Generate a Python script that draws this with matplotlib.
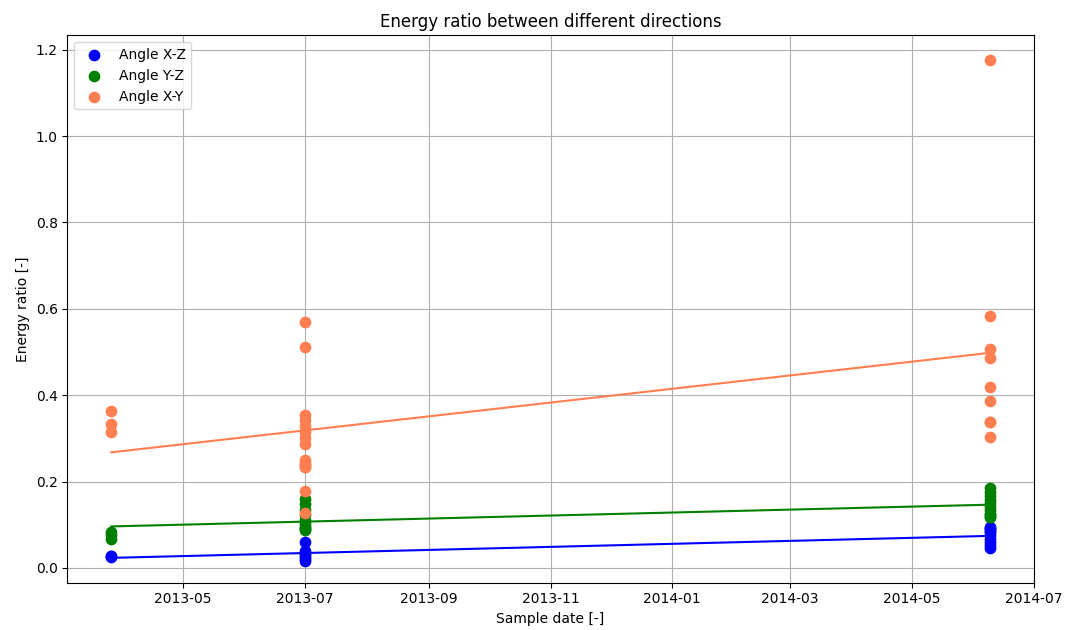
import numpy as np
import matplotlib.pyplot as plt
import matplotlib.dates as mdates

# sample dates of the three measurement campaigns
dates = np.array(['2013-03-26', '2013-07-01', '2014-06-09'], dtype='datetime64[D]')

# energy ratios per campaign
xz = [
    [0.028, 0.027, 0.026],
    [0.060, 0.040, 0.034, 0.029, 0.025, 0.021, 0.017],
    [0.095, 0.092, 0.089, 0.085, 0.082, 0.075, 0.068, 0.060, 0.052, 0.046],
]
yz = [
    [0.084, 0.076, 0.068],
    [0.160, 0.148, 0.135, 0.122, 0.112, 0.104, 0.097, 0.092, 0.090, 0.088],
    [0.185, 0.175, 0.166, 0.158, 0.150, 0.142, 0.133, 0.124, 0.124, 0.118, 0.118],
]
xy = [
    [0.363, 0.333, 0.314],
    [0.570, 0.512, 0.355, 0.342, 0.328, 0.315, 0.300, 0.287,
     0.250, 0.241, 0.241, 0.233, 0.233, 0.178, 0.126],
    [1.176, 0.584, 0.507, 0.487, 0.419, 0.387, 0.339, 0.339, 0.303],
]

series = [('Angle X-Z', xz, 'blue'),
          ('Angle Y-Z', yz, 'green'),
          ('Angle X-Y', xy, 'coral')]

fig = plt.figure(figsize=(10.7, 6.3), dpi=100)
ax = fig.add_subplot(1, 1, 1)
fig.subplots_adjust(left=0.063, right=0.966, bottom=0.075, top=0.944)

for label, values, color in series:
    x = np.concatenate([np.repeat(d, len(v)) for d, v in zip(dates, values)])
    y = np.concatenate(values)
    xn = mdates.date2num(x)
    ax.scatter(x, y, color=color, s=55, label=label, zorder=3)
    # linear trend through all points of the series
    k, b = np.polyfit(xn, y, 1)
    xl = np.array([xn.min(), xn.max()])
    ax.plot(mdates.num2date(xl), k * xl + b, color=color, lw=1.5, zorder=2)

ax.xaxis.set_major_formatter(mdates.DateFormatter('%Y-%m'))
ax.grid(True, color='#b0b0b0')
ax.set_axisbelow(True)
ax.set_xlabel('Sample date [-]')
ax.set_ylabel('Energy ratio [-]')
ax.set_title('Energy ratio between different directions')
ax.legend(loc='upper left')
plt.savefig('out.png', dpi=100)
